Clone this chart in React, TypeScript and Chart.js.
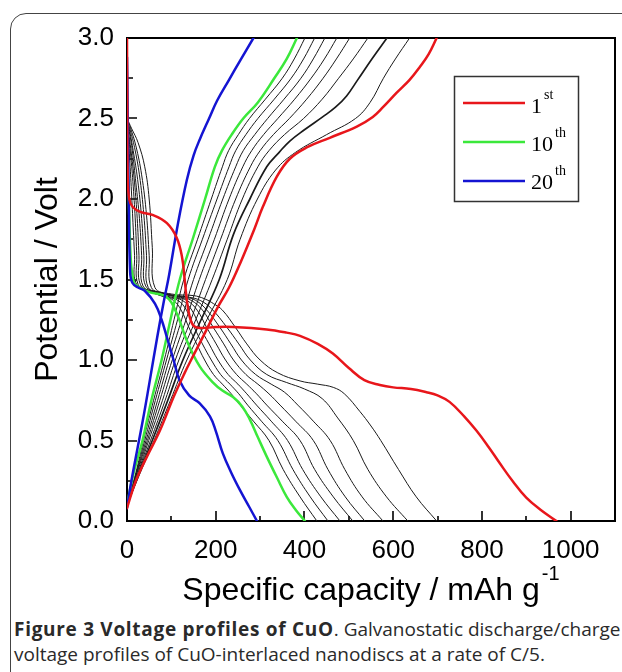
import React, { useEffect, useRef } from "react";
import { Chart, registerables } from "chart.js";

Chart.register(...registerables);

type P = [number, number];

// ---- axis ticks ----
const xTicks = [0, 200, 400, 600, 800, 1000];
const xMinorTicks = [100, 300, 500, 700, 900];
const yTicks = [0, 0.5, 1.0, 1.5, 2.0, 2.5, 3.0];
const yMinorTicks = [0.25, 0.75, 1.25, 1.75, 2.25, 2.75];

// ---- legend ----
const legendLabels = ["1", "10", "20"];
const legendSups = ["st", "th", "th"];

// ---- 1st cycle (red) ----
const cycle1Discharge: P[] = [
  [0, 3.0], [0.5, 2.6], [1.5, 2.15], [5, 2.0], [13, 1.95], [30, 1.92], [59, 1.9], [90, 1.85],
  [112, 1.76], [124, 1.64], [130, 1.5], [136, 1.35], [146, 1.23], [160, 1.2], [200, 1.205],
  [239, 1.205], [315, 1.19], [360, 1.17], [390, 1.15], [430, 1.1], [464, 1.04], [500, 0.95],
  [535, 0.875], [570, 0.845], [600, 0.83], [640, 0.82], [675, 0.8], [700, 0.78], [727, 0.74],
  [760, 0.65], [788, 0.56], [815, 0.46], [840, 0.36], [870, 0.245], [900, 0.145], [932, 0.07], [968, 0.0],
];
const cycle1Charge: P[] = [
  [0, 0.08], [20, 0.25], [45, 0.4], [74, 0.56], [105, 0.77], [130, 0.92], [150, 1.03], [176, 1.17],
  [205, 1.33], [230, 1.45], [255, 1.6], [288, 1.82], [306, 1.95], [338, 2.14], [367, 2.25],
  [405, 2.32], [457, 2.38], [518, 2.45], [554, 2.51], [577, 2.57], [608, 2.66], [637, 2.74],
  [660, 2.82], [680, 2.9], [698, 3.0],
];

// ---- 10th cycle (green) ----
const cycle10Discharge: P[] = [
  [0, 2.5], [2, 2.2], [5, 1.9], [9, 1.6], [14, 1.5], [18, 1.47], [35, 1.44], [52, 1.42], [90, 1.39],
  [112, 1.29], [135, 1.12], [164, 0.96], [194, 0.86], [215, 0.81], [239, 0.77], [260, 0.71],
  [277, 0.63], [295, 0.52], [315, 0.4], [338, 0.27], [360, 0.15], [380, 0.07], [401, 0.0],
];
const cycle10Charge: P[] = [
  [0, 0.1], [15, 0.3], [35, 0.5], [55, 0.75], [78, 1.0], [98, 1.25], [119, 1.5], [148, 1.75],
  [176, 2.0], [198, 2.2], [214, 2.3], [236, 2.4], [262, 2.5], [295, 2.6], [332, 2.75], [360, 2.87], [383, 3.0],
];

// ---- 20th cycle (blue) ----
const cycle20Discharge: P[] = [
  [0, 2.88], [1, 2.7], [2, 2.4], [4, 2.0], [7, 1.55], [12, 1.48], [25, 1.45], [40, 1.43], [63, 1.35],
  [78, 1.25], [90, 1.14], [105, 1.0], [119, 0.87], [140, 0.78], [164, 0.73], [187, 0.65], [200, 0.56],
  [216, 0.42], [235, 0.3], [255, 0.19], [275, 0.09], [293, 0.0],
];
const cycle20Charge: P[] = [
  [0, 0.08], [10, 0.25], [36, 0.63], [50, 0.85], [68, 1.14], [82, 1.35], [95, 1.53], [115, 1.85],
  [135, 2.12], [150, 2.27], [164, 2.37], [185, 2.5], [203, 2.61], [230, 2.74], [255, 2.86], [285, 3.0],
];

// ---- cycles 2-9 (black) ----
const cycle2Discharge: P[] = [
  [0, 2.5], [10, 2.44], [25, 2.35], [40, 2.2], [50, 2.0], [57, 1.7], [63, 1.45], [100, 1.41], [150, 1.4],
  [175, 1.38], [195, 1.35], [215, 1.31], [245, 1.2], [270, 1.1], [300, 1.0], [340, 0.92], [390, 0.87],
  [430, 0.85], [465, 0.83], [490, 0.79], [525, 0.68], [550, 0.59], [572, 0.5], [612, 0.32], [652, 0.15], [698, 0.0],
];
const cycle3Discharge: P[] = [
  [0, 2.5], [8, 2.44], [20, 2.33], [33, 2.15], [44, 1.9], [50, 1.65], [55, 1.45], [90, 1.41], [140, 1.39],
  [165, 1.37], [190, 1.32], [226, 1.2], [252, 1.1], [278, 1.0], [315, 0.91], [360, 0.86], [400, 0.82],
  [440, 0.76], [475, 0.64], [510, 0.5], [543, 0.32], [585, 0.15], [633, 0.0],
];
const cycle4Discharge: P[] = [
  [0, 2.49], [7, 2.43], [17, 2.32], [28, 2.15], [38, 1.9], [44, 1.65], [48, 1.45], [85, 1.41], [130, 1.39],
  [155, 1.37], [180, 1.31], [210, 1.2], [234, 1.1], [258, 1.0], [290, 0.91], [325, 0.85], [355, 0.8],
  [385, 0.72], [420, 0.62], [458, 0.5], [491, 0.32], [530, 0.15], [577, 0.0],
];
const cycle5Discharge: P[] = [
  [0, 2.48], [6, 2.42], [14, 2.3], [24, 2.12], [33, 1.88], [38, 1.65], [42, 1.46], [75, 1.42], [120, 1.39],
  [145, 1.37], [170, 1.31], [195, 1.2], [218, 1.1], [240, 1.0], [268, 0.91], [295, 0.85], [320, 0.79],
  [345, 0.72], [380, 0.62], [420, 0.5], [453, 0.32], [492, 0.15], [536, 0.0],
];
const cycle6Discharge: P[] = [
  [0, 2.48], [5, 2.42], [12, 2.3], [20, 2.1], [28, 1.88], [33, 1.65], [36, 1.46], [70, 1.42], [110, 1.39],
  [135, 1.37], [158, 1.31], [180, 1.2], [201, 1.1], [222, 1.0], [247, 0.91], [270, 0.85], [292, 0.79],
  [315, 0.72], [350, 0.62], [390, 0.5], [423, 0.32], [465, 0.15], [509, 0.0],
];
const cycle7Discharge: P[] = [
  [0, 2.47], [4, 2.4], [10, 2.28], [17, 2.1], [23, 1.88], [27, 1.65], [30, 1.47], [60, 1.42], [100, 1.39],
  [125, 1.37], [146, 1.31], [165, 1.2], [185, 1.1], [205, 1.0], [228, 0.91], [250, 0.85], [270, 0.79],
  [292, 0.72], [325, 0.62], [362, 0.5], [396, 0.32], [437, 0.15], [480, 0.0],
];
const cycle8Discharge: P[] = [
  [0, 2.46], [3, 2.4], [8, 2.28], [14, 2.08], [19, 1.85], [22, 1.65], [25, 1.47], [55, 1.42], [92, 1.39],
  [115, 1.37], [134, 1.31], [152, 1.2], [170, 1.1], [190, 1.0], [211, 0.91], [232, 0.85], [252, 0.79],
  [272, 0.72], [303, 0.62], [340, 0.5], [374, 0.32], [413, 0.15], [453, 0.0],
];
const cycle9Discharge: P[] = [
  [0, 2.45], [3, 2.38], [6, 2.25], [10, 2.05], [14, 1.82], [17, 1.65], [20, 1.48], [50, 1.43], [85, 1.39],
  [105, 1.37], [122, 1.31], [140, 1.2], [157, 1.1], [175, 1.0], [195, 0.91], [215, 0.85], [235, 0.79],
  [255, 0.72], [285, 0.62], [320, 0.5], [352, 0.32], [390, 0.15], [428, 0.0],
];

const cycle2Charge: P[] = [
  [0, 0.1], [30, 0.3], [61, 0.5], [98, 0.75], [135, 1.0], [180, 1.25], [226, 1.5], [255, 1.75], [294, 2.0],
  [335, 2.18], [380, 2.29], [450, 2.4], [515, 2.5], [548, 2.6], [578, 2.75], [605, 2.87], [637, 3.0],
];
const cycle3Charge: P[] = [
  [0, 0.1], [28, 0.3], [57, 0.5], [92, 0.75], [126, 1.0], [167, 1.25], [208, 1.5], [240, 1.78], [277, 2.0],
  [315, 2.2], [343, 2.29], [367, 2.36], [400, 2.43], [441, 2.51], [470, 2.57], [495, 2.64], [520, 2.74],
  [552, 2.87], [586, 3.0],
];
const cycle4Charge: P[] = [
  [0, 0.1], [26, 0.3], [53, 0.5], [86, 0.75], [117, 1.0], [155, 1.25], [192, 1.5], [226, 1.75], [260, 2.0],
  [295, 2.2], [320, 2.3], [355, 2.4], [398, 2.5], [440, 2.62], [477, 2.75], [510, 2.87], [543, 3.0],
];
const cycle5Charge: P[] = [
  [0, 0.1], [25, 0.3], [49, 0.5], [80, 0.75], [109, 1.0], [144, 1.25], [177, 1.5], [211, 1.75], [245, 2.0],
  [278, 2.2], [300, 2.3], [330, 2.4], [366, 2.5], [405, 2.62], [442, 2.75], [472, 2.87], [502, 3.0],
];
const cycle6Charge: P[] = [
  [0, 0.1], [23, 0.3], [46, 0.5], [74, 0.75], [102, 1.0], [133, 1.25], [163, 1.5], [197, 1.75], [230, 2.0],
  [261, 2.2], [281, 2.3], [308, 2.4], [340, 2.5], [378, 2.62], [415, 2.75], [445, 2.87], [473, 3.0],
];
const cycle7Charge: P[] = [
  [0, 0.1], [22, 0.3], [43, 0.5], [69, 0.75], [95, 1.0], [123, 1.25], [150, 1.5], [183, 1.75], [216, 2.0],
  [245, 2.2], [262, 2.3], [288, 2.4], [317, 2.5], [354, 2.62], [392, 2.75], [420, 2.87], [446, 3.0],
];
const cycle8Charge: P[] = [
  [0, 0.1], [21, 0.3], [40, 0.5], [64, 0.75], [89, 1.0], [114, 1.25], [138, 1.5], [170, 1.75], [203, 2.0],
  [230, 2.2], [245, 2.3], [268, 2.4], [295, 2.5], [332, 2.62], [370, 2.75], [398, 2.87], [423, 3.0],
];
const cycle9Charge: P[] = [
  [0, 0.1], [20, 0.3], [37, 0.5], [60, 0.75], [84, 1.0], [106, 1.25], [128, 1.5], [159, 1.75], [190, 2.0],
  [215, 2.2], [229, 2.3], [251, 2.4], [276, 2.5], [312, 2.62], [350, 2.75], [377, 2.87], [401, 3.0],
];

const RED = "#e8161b";
const GREEN = "#3be83b";
const BLUE = "#1414d2";
const BLACK = "#1a1a1a";

const blackCurves: { d: P[]; w: number }[] = [
  { d: cycle2Discharge, w: 1 }, { d: cycle2Charge, w: 1 },
  { d: cycle3Discharge, w: 1 }, { d: cycle3Charge, w: 1.7 },
  { d: cycle4Discharge, w: 1 }, { d: cycle4Charge, w: 1 },
  { d: cycle5Discharge, w: 1 }, { d: cycle5Charge, w: 1 },
  { d: cycle6Discharge, w: 1 }, { d: cycle6Charge, w: 1 },
  { d: cycle7Discharge, w: 1 }, { d: cycle7Charge, w: 1 },
  { d: cycle8Discharge, w: 1 }, { d: cycle8Charge, w: 1 },
  { d: cycle9Discharge, w: 1 }, { d: cycle9Charge, w: 1 },
];

const toXY = (a: P[]) => a.map(([x, y]) => ({ x, y }));

const overlay = {
  id: "overlay",
  beforeDatasetsDraw(chart: any) {
    const { ctx, chartArea, scales } = chart;
    const { left, right, top, bottom } = chartArea;
    const x = scales.x;
    const y = scales.y;
    ctx.save();
    ctx.strokeStyle = "#000";
    ctx.lineWidth = 2;
    ctx.strokeRect(left, top, right - left, bottom - top);
    ctx.lineWidth = 1.6;
    ctx.beginPath();
    for (const v of xTicks) {
      const px = Math.round(x.getPixelForValue(v));
      ctx.moveTo(px, bottom);
      ctx.lineTo(px, bottom - 10);
    }
    for (const v of xMinorTicks) {
      const px = Math.round(x.getPixelForValue(v));
      ctx.moveTo(px, bottom);
      ctx.lineTo(px, bottom - 5);
    }
    for (const v of yTicks) {
      const py = Math.round(y.getPixelForValue(v));
      ctx.moveTo(left, py);
      ctx.lineTo(left + 10, py);
    }
    for (const v of yMinorTicks) {
      const py = Math.round(y.getPixelForValue(v));
      ctx.moveTo(left, py);
      ctx.lineTo(left + 6, py);
    }
    ctx.stroke();
    ctx.restore();
  },
  afterDatasetsDraw(chart: any) {
    const { ctx, chartArea } = chart;
    const { left, right, top, bottom } = chartArea;
    ctx.save();
    ctx.fillStyle = "#000";
    // x title
    const main = "Specific capacity / mAh g";
    const sup = "-1";
    ctx.font = "32px 'Liberation Sans'";
    const wMain = ctx.measureText(main).width;
    ctx.font = "20px 'Liberation Sans'";
    const wSup = ctx.measureText(sup).width;
    const cx = (left + right) / 2;
    const sx = cx - (wMain + wSup + 2) / 2;
    ctx.textBaseline = "alphabetic";
    ctx.textAlign = "left";
    ctx.font = "32px 'Liberation Sans'";
    ctx.fillText(main, sx, 600);
    ctx.font = "20px 'Liberation Sans'";
    ctx.fillText(sup, sx + wMain + 2, 580);
    // y title
    ctx.save();
    ctx.translate(57, (top + bottom) / 2);
    ctx.rotate(-Math.PI / 2);
    ctx.font = "32px 'Liberation Sans'";
    ctx.textAlign = "center";
    ctx.fillText("Potential / Volt", 0, 0);
    ctx.restore();
    // legend
    const bx = 454.5, by = 76.5, bw = 124, bh = 125;
    ctx.strokeStyle = "#333";
    ctx.lineWidth = 1.5;
    ctx.strokeRect(bx, by, bw, bh);
    const colors = [RED, GREEN, BLUE];
    const rows = [103, 142, 181];
    const bases = [113, 151, 189];
    for (let i = 0; i < 3; i++) {
      ctx.strokeStyle = colors[i];
      ctx.lineWidth = 2.5;
      ctx.beginPath();
      ctx.moveTo(463, rows[i]);
      ctx.lineTo(525, rows[i]);
      ctx.stroke();
      ctx.fillStyle = "#000";
      ctx.font = "22px 'Liberation Serif'";
      ctx.textAlign = "left";
      ctx.fillText(legendLabels[i], 531, bases[i]);
      const w = ctx.measureText(legendLabels[i]).width;
      ctx.font = "14px 'Liberation Serif'";
      ctx.fillText(legendSups[i], 531 + w + 2, bases[i] - 14);
    }
    ctx.restore();
  },
};

export default function App() {
  const ref = useRef<HTMLCanvasElement | null>(null);
  useEffect(() => {
    if (!ref.current) return;
    const datasets: any[] = [
      { data: toXY(cycle1Discharge), borderColor: RED, borderWidth: 2.5 },
      { data: toXY(cycle1Charge), borderColor: RED, borderWidth: 2.5 },
      { data: toXY(cycle20Discharge), borderColor: BLUE, borderWidth: 2.5 },
      { data: toXY(cycle20Charge), borderColor: BLUE, borderWidth: 2.5 },
      { data: toXY(cycle10Discharge), borderColor: GREEN, borderWidth: 2.5 },
      { data: toXY(cycle10Charge), borderColor: GREEN, borderWidth: 2.5 },
      ...blackCurves.map((c) => ({ data: toXY(c.d), borderColor: BLACK, borderWidth: c.w })),
    ];
    const chart = new Chart(ref.current, {
      type: "line",
      data: { datasets },
      options: {
        animation: false,
        responsive: false,
        devicePixelRatio: 1,
        layout: { padding: { left: 0, right: 7, top: 38, bottom: 0 } },
        plugins: { legend: { display: false }, tooltip: { enabled: false } },
        elements: {
          point: { radius: 0 },
          line: { tension: 0.4, borderCapStyle: "round", borderJoinStyle: "round", fill: false },
        },
        scales: {
          x: {
            type: "linear",
            min: 0,
            max: 1100,
            grid: { display: false, drawTicks: false },
            border: { display: false },
            afterBuildTicks: (s: any) => {
              s.ticks = xTicks.map((v) => ({ value: v }));
            },
            afterFit: (s: any) => {
              s.height = 89;
            },
            ticks: {
              font: { family: "'Liberation Sans'", size: 26 },
              color: "#000",
              padding: 14,
              maxRotation: 0,
              autoSkip: false,
              callback: (v: any) => String(v),
            },
          },
          y: {
            type: "linear",
            min: 0,
            max: 3,
            grid: { display: false, drawTicks: false },
            border: { display: false },
            afterBuildTicks: (s: any) => {
              s.ticks = yTicks.map((v) => ({ value: v }));
            },
            afterFit: (s: any) => {
              s.width = 127;
            },
            ticks: {
              font: { family: "'Liberation Sans'", size: 26 },
              color: "#000",
              padding: 13,
              autoSkip: false,
              callback: (v: any) => Number(v).toFixed(1),
            },
          },
        },
      },
      plugins: [overlay],
    });
    return () => chart.destroy();
  }, []);

  return (
    <div style={{ position: "absolute", left: 0, top: 0, width: 622, height: 672, overflow: "hidden", background: "#fff" }}>
      <div
        style={{
          position: "absolute",
          left: 10,
          top: 13,
          width: 700,
          height: 700,
          border: "1.5px solid #444",
          borderRadius: 16,
          boxSizing: "border-box",
        }}
      />
      <canvas ref={ref} width={622} height={610} style={{ position: "absolute", left: 0, top: 0, width: 622, height: 610 }} />
      <div
        style={{
          position: "absolute",
          left: 14,
          top: 617,
          whiteSpace: "nowrap",
          fontFamily: "'Open Sans', sans-serif",
          fontSize: 19,
          lineHeight: "25px",
          color: "#2a2a2a",
        }}
      >
        <span style={{ fontWeight: 700, letterSpacing: 0.7 }}>Figure 3 Voltage profiles of CuO</span>. Galvanostatic discharge/charge
        <br />
        voltage profiles of CuO-interlaced nanodiscs at a rate of C/5.
      </div>
    </div>
  );
}
